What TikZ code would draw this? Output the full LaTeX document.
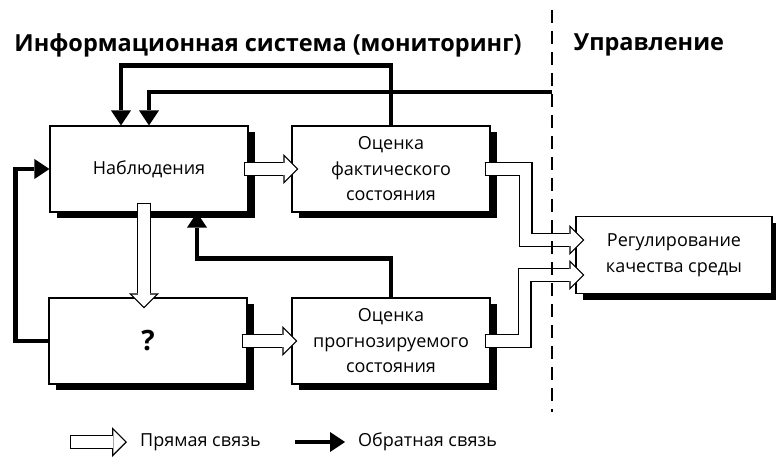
\documentclass[tikz,border=0pt]{standalone}
\usepackage{fontspec}
\setmainfont{Open Sans}
\usetikzlibrary{arrows.meta,shadows}
\newcommand{\boxfont}{\fontsize{18}{25.5}\selectfont}
\newcommand{\headfont}{\fontsize{23.5}{28}\selectfont\bfseries}

\begin{document}
\begin{tikzpicture}[x=1pt,y=-1pt,
  block/.style={draw,line width=1.2pt,fill=white,minimum width=198pt,minimum height=86pt,align=center,font=\boxfont,
    drop shadow={shadow xshift=7pt,shadow yshift=-6pt,fill=black,opacity=1}},
  back/.style={line width=4.5pt,-{Triangle[length=15pt,width=20pt,line width=0pt]}},
  pipe/.style={line width=14pt,-{Triangle[length=15pt,width=30pt,line width=0pt]},
    postaction={draw=white,line width=11.4pt,shorten <=1.3pt,shorten >=1.84pt,-{Triangle[length=11.86pt,width=23.7pt,line width=0pt]}}}]
 \useasboundingbox (0,0) rectangle (776,457);
 \node[font=\headfont] (info) at (268,45) {Информационная система (мониторинг)};
 \node[font=\headfont] (ctrl) at (649,45) {Управление};
 \node[block] (obs) at (149,169) {Наблюдения};
 \node[block] (fact) at (391,169) {Оценка\\фактического\\состояния};
 \node[block,font=\fontsize{28}{30}\selectfont\bfseries] (unk) at (148,341) {?};
 \node[block] (prog) at (391,341) {Оценка\\прогнозируемого\\состояния};
 \node[block,minimum width=196pt,minimum height=77pt] (reg) at (674,255) {Регулирование\\качества среды};
 \coordinate (top) at (552,10);
 \coordinate (bot) at (552,412);
 \coordinate (ctl) at (552,92);
 \draw[back] (fact.north) -- ++(0,-60) -| ([xshift=-28pt]obs.north);
 \draw[back] (ctl) -| (obs.north);
 \draw[back] (prog.north) -- ++(0,-39) -| ([xshift=48pt]obs.south);
 \draw[back] (unk.west) -- ++(-33,0) |- (obs.west);
 \draw[pipe] ([xshift=-5pt]obs.east) -- ([xshift=7pt]fact.west);
 \draw[pipe] ([xshift=-5pt,yshift=10pt]obs.south) -- ([xshift=-4pt,yshift=-11pt]unk.north);
 \draw[pipe] ([xshift=-6pt]unk.east) -- ([xshift=6pt]prog.west);
 \draw[pipe] ([xshift=-6pt]fact.east) -- ++(41,0) |- ([xshift=9pt,yshift=15pt]reg.west);
 \draw[pipe] ([xshift=-6pt]prog.east) -- ++(40,0) |- ([xshift=9pt,yshift=-20pt]reg.west);
 \draw[line width=1.3pt,dash pattern=on 13pt off 8pt] (top) -- (bot);
 \node[font=\boxfont,anchor=west,inner sep=0pt] (direct) at (140,442) {Прямая связь};
 \node[font=\boxfont,anchor=west,inner sep=0pt] (reverse) at (358,442) {Обратная связь};
 \coordinate (dtail) at (70,442);
 \coordinate (rtail) at (295,442);
 \draw[pipe] (dtail) -- ([xshift=-13pt]direct.west);
 \draw[back] (rtail) -- ([xshift=-13pt]reverse.west);
\end{tikzpicture}
\end{document}
